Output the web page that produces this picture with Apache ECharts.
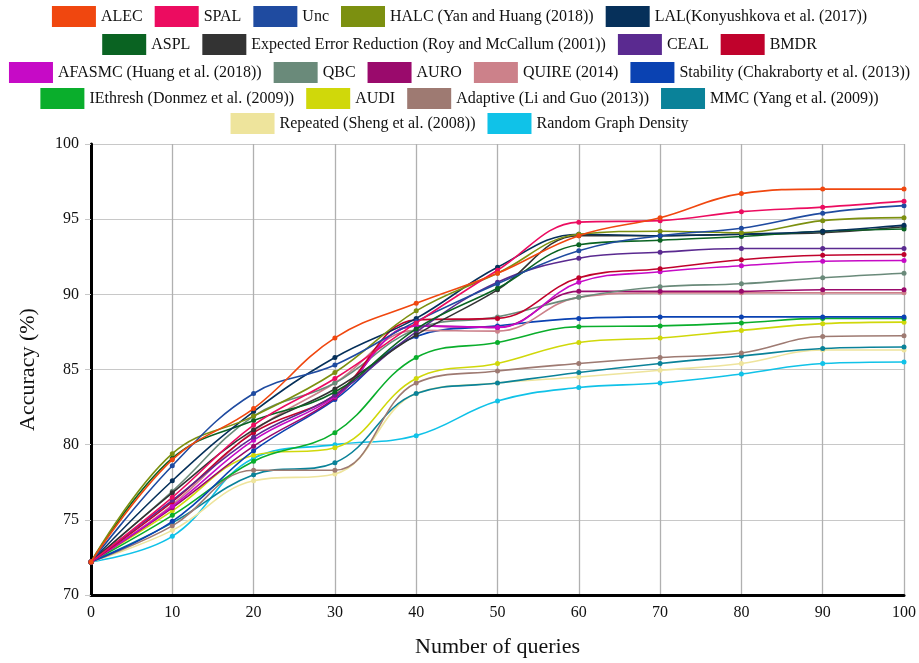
<!DOCTYPE html>
<html>
<head>
<meta charset="utf-8">
<script src="https://cdn.jsdelivr.net/npm/echarts@6/dist/echarts.min.js"></script>
<style>
  html, body { margin: 0; padding: 0; background: #fff; }
  #main { width: 919px; height: 663px; }
</style>
</head>
<body>
<div id="main"></div>
<script>
// number of queries (x axis)
var queries = [0, 10, 20, 30, 40, 50, 60, 70, 80, 90, 100];

// accuracy values (%)
var ALEC      = [72.2, 79.0, 82.4, 87.1, 89.4, 91.4, 93.9, 95.1, 96.7, 97.0, 97.0];
var SPAL      = [72.2, 76.5, 81.3, 84.4, 88.1, 91.6, 94.8, 94.9, 95.5, 95.8, 96.2];
var Unc       = [72.2, 78.6, 83.4, 85.3, 88.2, 90.7, 92.9, 93.9, 94.4, 95.4, 95.9];
var HALC      = [72.2, 79.4, 81.9, 84.8, 88.9, 91.4, 94.0, 94.2, 94.1, 94.9, 95.1];
var LAL       = [72.2, 77.6, 82.2, 85.8, 88.4, 91.8, 94.0, 93.9, 94.0, 94.2, 94.6];
var ASPL      = [72.2, 79.1, 81.6, 83.5, 87.7, 90.4, 93.3, 93.6, 93.85, 94.2, 94.35];
var EER       = [72.2, 76.8, 81.0, 83.7, 87.3, 90.3, 93.9, 93.9, 94.0, 94.1, 94.5];
var CEAL      = [72.2, 76.3, 80.5, 83.3, 87.5, 90.8, 92.4, 92.8, 93.05, 93.05, 93.05];
var BMDR      = [72.2, 76.2, 80.8, 83.3, 88.3, 88.4, 91.1, 91.7, 92.3, 92.6, 92.65];
var AFASMC    = [72.2, 75.9, 80.3, 83.2, 87.9, 87.8, 90.8, 91.5, 91.9, 92.2, 92.25];
var QBC       = [72.2, 76.9, 81.9, 84.1, 87.7, 88.5, 89.8, 90.5, 90.7, 91.1, 91.4];
var AURO      = [72.2, 75.8, 79.9, 83.1, 87.9, 87.8, 90.2, 90.2, 90.2, 90.3, 90.3];
var QUIRE     = [72.2, 76.0, 80.9, 84.1, 87.6, 87.55, 89.8, 90.1, 90.1, 90.1, 90.1];
var Stability = [72.2, 74.9, 79.6, 83.0, 87.2, 87.9, 88.4, 88.5, 88.5, 88.5, 88.5];
var IEthresh  = [72.2, 75.3, 78.9, 80.8, 85.8, 86.8, 87.85, 87.9, 88.1, 88.4, 88.4];
var AUDI      = [72.2, 75.6, 79.3, 79.8, 84.4, 85.4, 86.8, 87.1, 87.6, 88.05, 88.15];
var Adaptive  = [72.2, 74.6, 78.3, 78.3, 84.1, 84.9, 85.4, 85.8, 86.1, 87.2, 87.25];
var MMC       = [72.2, 74.8, 78.0, 78.8, 83.4, 84.1, 84.8, 85.4, 85.9, 86.4, 86.5];
var Repeated  = [72.2, 74.3, 77.6, 78.05, 83.4, 84.1, 84.5, 84.95, 85.4, 86.3, 86.3];
var RGD       = [72.2, 73.9, 79.1, 80.0, 80.6, 82.9, 83.8, 84.1, 84.7, 85.4, 85.5];

var names = [
  "ALEC", "SPAL", "Unc", "HALC (Yan and Huang (2018))", "LAL(Konyushkova et al. (2017))",
  "ASPL", "Expected Error Reduction (Roy and McCallum (2001))", "CEAL", "BMDR",
  "AFASMC (Huang et al. (2018))", "QBC", "AURO", "QUIRE (2014)", "Stability (Chakraborty et al. (2013))",
  "IEthresh (Donmez et al. (2009))", "AUDI", "Adaptive (Li and Guo (2013))", "MMC (Yang et al. (2009))",
  "Repeated (Sheng et al. (2008))", "Random Graph Density"
];
var values = [ALEC, SPAL, Unc, HALC, LAL, ASPL, EER, CEAL, BMDR, AFASMC, QBC, AURO,
  QUIRE, Stability, IEthresh, AUDI, Adaptive, MMC, Repeated, RGD];
var colors = [
  "#f0470f", "#ec0c60", "#1f4ba0", "#7c9010", "#06305a",
  "#0a6322", "#333333", "#5a2a90", "#c0022c",
  "#c60ac6", "#6a8a7a", "#9a0a6c", "#cc818a", "#0a42b2",
  "#0aae2c", "#d0d80a", "#9e7a72", "#0a8299",
  "#eee49c", "#10c2e8"
];
var legendRows = [[0, 5], [5, 9], [9, 14], [14, 18], [18, 20]];
var legendTops = [1, 29, 57, 83, 108];

var series = names.map(function (n, i) {
  return {
    name: n,
    type: "line",
    smooth: 0.4,
    symbol: "circle",
    symbolSize: 5,
    data: queries.map(function (q, j) { return [q, values[i][j]]; }),
    lineStyle: { width: 1.6, color: colors[i] },
    itemStyle: { color: colors[i] },
    z: 20 - i
  };
});

var legends = legendRows.map(function (r, k) {
  return {
    top: legendTops[k],
    left: "center",
    icon: "rect",
    itemWidth: 44,
    itemHeight: 21,
    itemGap: 12,
    textStyle: { fontFamily: "Liberation Serif", fontSize: 16, color: "#111" },
    data: names.slice(r[0], r[1])
  };
});

var myChart = echarts.init(document.getElementById("main"));
myChart.setOption({
  animation: false,
  backgroundColor: "#fff",
  legend: legends,
  grid: { left: 91, right: 13, top: 144, bottom: 66 },
  xAxis: {
    type: "value",
    min: 0,
    max: 100,
    interval: 10,
    name: "Number of queries",
    nameLocation: "middle",
    nameGap: 41,
    nameTextStyle: { fontFamily: "Liberation Serif", fontSize: 22, color: "#111" },
    axisLine: { show: true, onZero: false, lineStyle: { color: "#000", width: 3 } },
    axisTick: { show: false },
    axisLabel: { fontFamily: "Liberation Serif", fontSize: 16, color: "#111", margin: 10 },
    splitLine: { show: true, lineStyle: { color: "#b0b0b0", width: 1.3 } }
  },
  yAxis: {
    type: "value",
    min: 70,
    max: 100,
    interval: 5,
    name: "Accuracy (%)",
    nameLocation: "middle",
    nameGap: 52,
    nameTextStyle: { fontFamily: "Liberation Serif", fontSize: 22, color: "#111" },
    axisLine: { show: true, lineStyle: { color: "#000", width: 3 } },
    axisTick: { show: true, length: 6, lineStyle: { color: "#c8c8c8" } },
    axisLabel: { fontFamily: "Liberation Serif", fontSize: 16, color: "#111", margin: 12 },
    splitLine: { show: true, lineStyle: { color: "#c8c8c8", width: 1.2 } }
  },
  series: series
});
</script>
</body>
</html>
